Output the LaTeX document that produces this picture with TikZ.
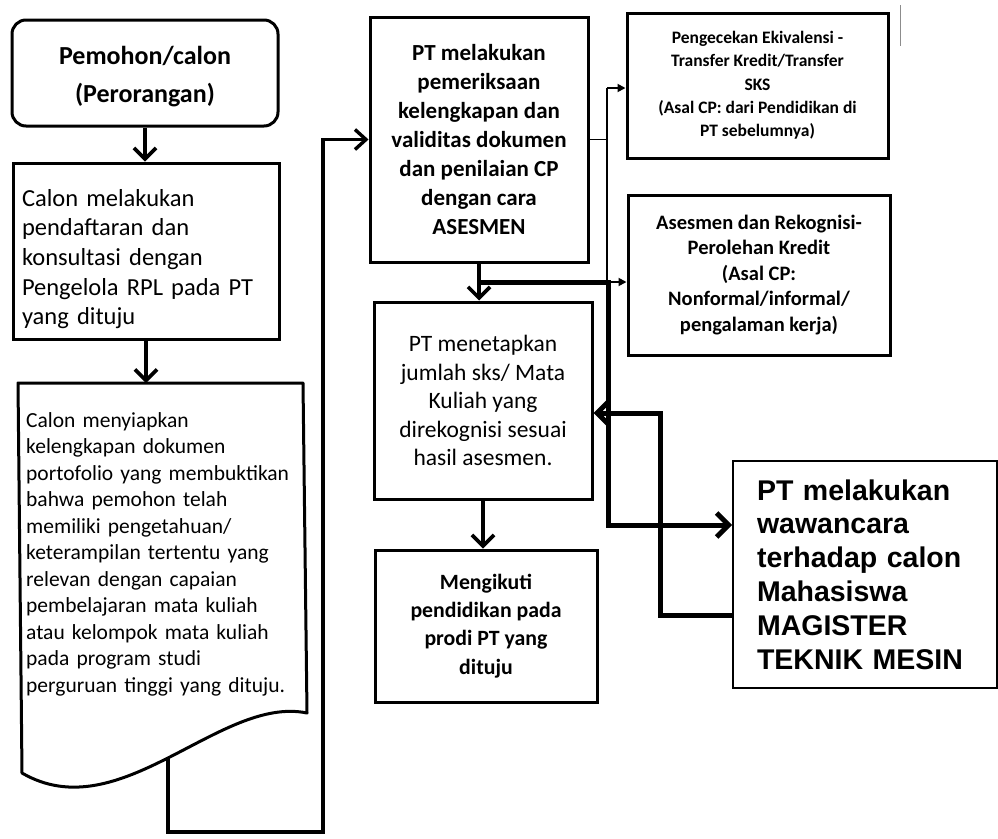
\documentclass[tikz,border=0pt]{standalone}
\usepackage{fontspec}
\setmainfont{Carlito}
\newfontfamily\arialfont{Liberation Sans}
\usetikzlibrary{arrows.meta}
\begin{document}
\begin{tikzpicture}[x=1pt,y=-1pt,
  boxline/.style={draw=black, line width=3pt, inner sep=0pt},
  flowarrow/.style={line width=3.6pt, -{Straight Barb[length=11pt,width=22pt]}},
  thinline/.style={line width=1.8pt},
  smallarrow/.style={line width=1.8pt, -{Triangle[length=8pt,width=8pt]}},
  thickarrow/.style={line width=5pt, -{Straight Barb[length=12pt,width=24pt]}},
  txtA/.style={font=\bfseries\fontsize{26}{38}\selectfont, align=center},
  txtB/.style={font=\fontsize{24.5}{29.7}\selectfont, align=left},
  txtC/.style={font=\fontsize{21.5}{26.5}\selectfont, align=left},
  txtD/.style={font=\bfseries\fontsize{23}{28.9}\selectfont, align=center},
  txtE/.style={font=\fontsize{23.5}{28.5}\selectfont, align=center},
  txtI/.style={font=\bfseries\fontsize{21.8}{28.3}\selectfont, align=center},
  txtF/.style={font=\bfseries\fontsize{17.5}{23.3}\selectfont, align=center},
  txtG/.style={font=\bfseries\fontsize{20.5}{25.5}\selectfont, align=center},
  txtH/.style={font=\arialfont\bfseries\fontsize{28.5}{33.8}\selectfont, align=left}
]
\useasboundingbox (0,0) rectangle (998,838);

% Box A
\node[boxline, rounded corners=14pt, minimum width=266pt, minimum height=106pt] (A) at (145,73) {};
\node[txtA, inner sep=0pt] (Atext) at (145,77) {Pemohon/calon\\(Perorangan)};

% Box B
\node[boxline, minimum width=266pt, minimum height=176pt] (B) at (146,251) {};
\node[txtB, text width=252pt, inner sep=0pt] (Btext) at (148,259)
  {Calon melakukan\\pendaftaran dan\\konsultasi dengan\\Pengelola RPL pada PT\\yang dituju};

% Box D
\node[boxline, minimum width=218pt, minimum height=245pt, txtD] (D) at (479,139.5)
  {PT melakukan\\pemeriksaan\\kelengkapan dan\\validitas dokumen\\dan penilaian CP\\dengan cara\\ASESMEN};

% Box E
\node[boxline, minimum width=218pt, minimum height=197pt, txtE] (E) at (483,400.5)
  {PT menetapkan\\jumlah sks/ Mata\\Kuliah yang\\direkognisi sesuai\\hasil asesmen.};

% Box I
\node[boxline, minimum width=222pt, minimum height=152pt, txtI] (I) at (486,626)
  {Mengikuti\\pendidikan pada\\prodi PT yang\\dituju};

% Box F
\node[boxline, minimum width=261pt, minimum height=145pt, txtF] (F) at (757.5,85.5)
  {Pengecekan Ekivalensi -\\Transfer Kredit/Transfer\\SKS\\(Asal CP: dari Pendidikan di\\PT sebelumnya)};

% Box G
\node[boxline, minimum width=262pt, minimum height=160pt, txtG] (G) at (759,275)
  {Asesmen dan Rekognisi-\\Perolehan Kredit\\(Asal CP:\\Nonformal/informal/\\pengalaman kerja)};

% Box H
\node[draw=black, line width=1.8pt, inner xsep=24pt, inner ysep=0pt, text width=216pt,
      minimum height=227pt, txtH] (H) at (865,574.5)
  {PT melakukan\\wawancara\\terhadap calon\\Mahasiswa\\MAGISTER\\TEKNIK MESIN};

% Loop connector from document C to D (drawn before C so C covers its start)
\coordinate (Cstart) at (168,740);
\coordinate (Lb1) at (168,832);
\coordinate (Lb2) at (323,832);
\draw[line width=3.4pt, -{Straight Barb[length=11pt,width=20pt]}]
  (Cstart) -- (Lb1) -- (Lb2) |- (D.west);

% Document shape C
\coordinate (Ctl) at (18,383);
\coordinate (Ctr) at (303,383);
\coordinate (Cbr) at (307,713);
\coordinate (Cbl) at (22,773);
\filldraw[fill=white, draw=black, line width=3pt, line join=round]
  (Ctl) -- (Ctr) -- (Cbr) .. controls (220,695) and (120,830) .. (Cbl) -- cycle;
\node[txtC, text width=272pt, inner sep=0pt, anchor=north west] (C) at (26,412)
  {Calon menyiapkan\\kelengkapan dokumen\\portofolio yang membuktikan\\bahwa pemohon telah\\memiliki pengetahuan/\\keterampilan tertentu yang\\relevan dengan capaian\\pembelajaran mata kuliah\\atau kelompok mata kuliah\\pada program studi\\perguruan tinggi yang dituju.};

% Main flow arrows
\draw[flowarrow] (A.south) -- (A.south |- B.north);
\draw[flowarrow] (B.south) -- (B.south |- Ctl);
\draw[flowarrow] (D.south) -- (D.south |- E.north);
\draw[flowarrow] (E.south) -- (E.south |- I.north);

% Thin branch to F and G
\coordinate (Tj) at (607,139.5);
\coordinate (Tf) at (607,88);
\coordinate (Tg) at (607,282);
\draw[thinline] (D.east) -- (Tj);
\draw[thinline] (Tf) -- (Tg);
\draw[smallarrow] (Tf) -- (F.west |- Tf);
\draw[smallarrow] (Tg) -- (G.west |- Tg);

% Thick interview connectors
\coordinate (Jd) at (D.south |- Tg);
\coordinate (K1) at (608,282);
\coordinate (K2) at (608,525);
\draw[thickarrow] (Jd) -- (K1) -- (K2) -- (H.west |- K2);
\coordinate (M1) at (660,615);
\coordinate (M2) at (660,413);
\draw[thickarrow] (H.west |- M1) -- (M1) -- (M2) -- (E.east |- M2);

% scan mark at top right
\draw[black!45, line width=1pt] (900,5) -- (900,46);
\end{tikzpicture}
\end{document}
